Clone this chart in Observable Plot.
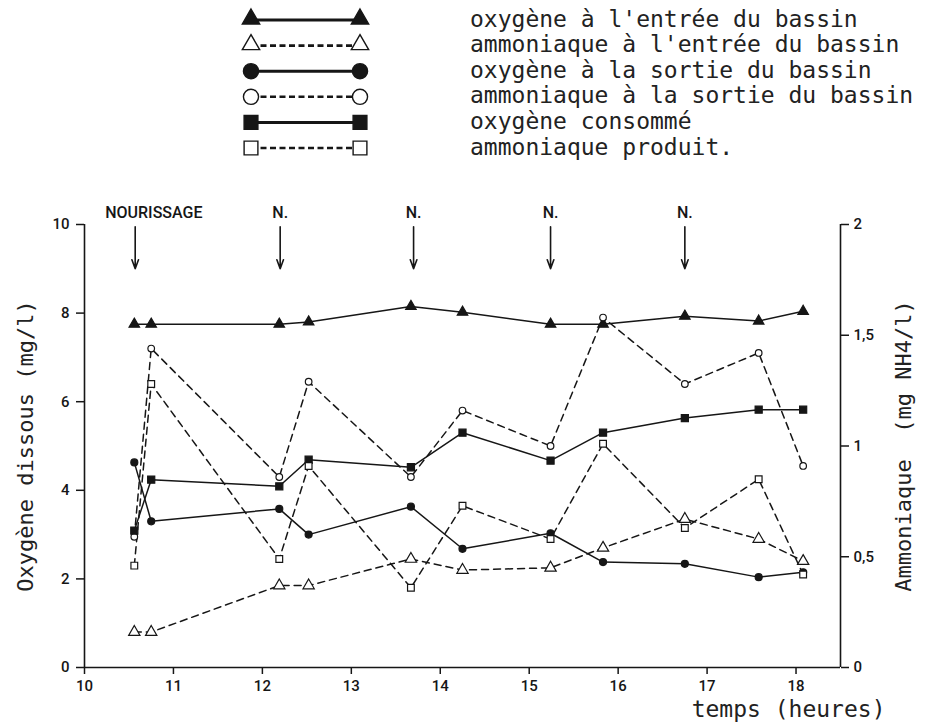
<!DOCTYPE html>
<html><head><meta charset="utf-8">
<script src="https://cdn.jsdelivr.net/npm/d3@7"></script>
<script src="https://cdn.jsdelivr.net/npm/@observablehq/plot@0.6"></script>
<style>
body{margin:0;background:#fff;width:929px;height:728px;overflow:hidden}
#legend svg,#chart svg{display:block}
</style></head><body>
<div id="legend"></div><div id="chart"></div>
<script>
// ---- data ----
const hours = [10.56, 10.75, 12.19, 12.52, 13.67, 14.25, 15.24, 15.83, 16.75, 17.58, 18.08];
const oxygenIn = [7.75, 7.75, 7.75, 7.8, 8.15, 8.02, 7.75, 7.75, 7.93, 7.82, 8.04];
const ammoniaIn = [0.16, 0.16, 0.37, 0.37, 0.49, 0.44, 0.45, 0.54, 0.67, 0.58, 0.48];
const oxygenOut = [4.63, 3.30, 3.58, 3.00, 3.63, 2.68, 3.03, 2.38, 2.34, 2.04, 2.15];
const ammoniaOut = [0.59, 1.44, 0.86, 1.29, 0.86, 1.16, 1.00, 1.58, 1.28, 1.42, 0.91];
const oxygenConsumed = [3.09, 4.24, 4.09, 4.69, 4.52, 5.30, 4.67, 5.30, 5.63, 5.82, 5.82];
const ammoniaProduced = [0.46, 1.28, 0.49, 0.91, 0.36, 0.73, 0.58, 1.01, 0.63, 0.85, 0.42];

const seriesNames = [
  "oxygène à l'entrée du bassin",
  "ammoniaque à l'entrée du bassin",
  "oxygène à la sortie du bassin",
  "ammoniaque à la sortie du bassin",
  "oxygène consommé",
  "ammoniaque produit."
];
const feedingTimes = [10.57, 12.2, 13.7, 15.24, 16.75];
const feedingLabels = ["NOURISSAGE", "N.", "N.", "N.", "N."];
const xTicks = [10, 11, 12, 13, 14, 15, 16, 17, 18];
const oxygenTicks = [0, 2, 4, 6, 8, 10];
const ammoniaTicks = [0, 0.5, 1, 1.5, 2];
const ammoniaTickLabels = ["0", "0,5", "1", "1,5", "2"];
const xLabel = "temps (heures)";
const yLabelLeft = "Oxygène dissous (mg/l)";
const yLabelRight = "Ammoniaque\u00A0\u00A0(mg NH4/l)";

// ammonia (0–2 mg) drawn on the oxygen scale (0–10 mg)
const AMMONIA_FACTOR = 5;

const series = [
  {name: seriesNames[0], values: oxygenIn, ammonia: false, symbol: "triangle", filled: true},
  {name: seriesNames[1], values: ammoniaIn, ammonia: true, symbol: "triangle", filled: false},
  {name: seriesNames[2], values: oxygenOut, ammonia: false, symbol: "circle", filled: true},
  {name: seriesNames[3], values: ammoniaOut, ammonia: true, symbol: "circle", filled: false},
  {name: seriesNames[4], values: oxygenConsumed, ammonia: false, symbol: "square", filled: true},
  {name: seriesNames[5], values: ammoniaProduced, ammonia: true, symbol: "square", filled: false}
];

const INK = "#161616";
const MONO = "'DejaVu Sans Mono', 'Liberation Mono', monospace";
const SANS = "Roboto, 'DejaVu Sans', sans-serif";

// ---- legend (above the chart) ----
(function legend(){
  const W = 929, H = 185;
  const svg = d3.create("svg").attr("width", W).attr("height", H);
  const x0 = 251, x1 = 360, tx = 470;
  const sym = {triangle: d3.symbolTriangle, circle: d3.symbolCircle, square: d3.symbolSquare};
  const size = {triangle: 130, circle: 180, square: 190};
  series.forEach((s, i) => {
    const cy = 20 + i * 25.6;
    svg.append("line").attr("x1", x0).attr("x2", x1).attr("y1", cy).attr("y2", cy)
      .attr("stroke", INK).attr("stroke-width", s.filled ? 3 : 2.6)
      .attr("stroke-dasharray", s.filled ? null : "6,3.5");
    [x0, x1].forEach(x => {
      svg.append("path").attr("d", d3.symbol(sym[s.symbol], size[s.symbol])())
        .attr("transform", `translate(${x},${s.symbol === "triangle" ? cy - 1 : cy})`)
        .attr("fill", s.filled ? INK : "#fff").attr("stroke", INK).attr("stroke-width", 1.4);
    });
    svg.append("text").attr("x", tx).attr("y", cy + 6.5).text(s.name)
      .attr("font-family", MONO).attr("font-size", 23).attr("fill", "#222");
  });
  document.getElementById("legend").append(svg.node());
})();

// ---- chart ----
const rows = series.flatMap(s => s.values.map((v, i) => ({
  series: s.name, t: hours[i], v: s.ammonia ? v * AMMONIA_FACTOR : v
})));

const marks = [
  Plot.ruleX([10], {stroke: INK, strokeWidth: 1.6}),
  Plot.ruleX([18.5], {stroke: INK, strokeWidth: 1.6}),
  Plot.ruleY([0], {stroke: INK, strokeWidth: 1.6}),
  Plot.axisX({ticks: xTicks, tickSize: 7, tickPadding: 6, fontSize: 15, fontFamily: SANS, fontWeight: 500, label: null, stroke: INK, strokeWidth: 1.5}),
  Plot.axisY({anchor: "left", ticks: oxygenTicks, tickSize: 8, tickPadding: 7, fontSize: 15, fontFamily: SANS, fontWeight: 500, label: null, stroke: INK, strokeWidth: 1.5}),
  Plot.axisY({anchor: "right", ticks: ammoniaTicks.map(v => v * AMMONIA_FACTOR),
    tickFormat: v => ammoniaTickLabels[ammoniaTicks.indexOf(v / AMMONIA_FACTOR)],
    tickSize: 8, tickPadding: 5, fontSize: 15, fontFamily: SANS, fontWeight: 500, label: null, stroke: INK, strokeWidth: 1.5}),
  Plot.text([yLabelLeft], {frameAnchor: "left", textAnchor: "middle", rotate: -90, dx: -59, fontFamily: MONO, fontSize: 22, fill: "#222"}),
  Plot.text([yLabelRight], {frameAnchor: "right", textAnchor: "middle", rotate: -90, dx: 63, fontFamily: MONO, fontSize: 22, fill: "#222"}),
  Plot.text([xLabel], {frameAnchor: "bottom-right", textAnchor: "end", dx: 45, dy: 49, fontFamily: MONO, fontSize: 23, fill: "#222"}),
  // feeding arrows
  Plot.arrow(feedingTimes, {x1: d => d, x2: d => d, y1: 9.95, y2: 9.0, stroke: INK, strokeWidth: 1.6, headLength: 9, headAngle: 40}),
  Plot.text(feedingTimes.slice(0, 1), {x: d => d, y: 10.27, text: feedingLabels.slice(0, 1), textAnchor: "start", dx: -30, fontFamily: SANS, fontWeight: 500, fontSize: 16, fill: INK}),
  Plot.text(feedingTimes.slice(1), {x: d => d, y: 10.27, text: feedingLabels.slice(1), fontFamily: SANS, fontWeight: 500, fontSize: 16, fill: INK})
];

series.forEach(s => {
  marks.push(Plot.line(rows.filter(r => r.series === s.name), {
    x: "t", y: "v", stroke: INK, strokeWidth: 1.5,
    strokeDasharray: s.ammonia ? "7,5" : null
  }));
});
series.forEach(s => {
  const r = s.symbol === "circle" ? (s.filled ? 3.5 : 3.3) : s.symbol === "square" ? (s.filled ? 4 : 3.8) : (s.filled ? 3.9 : 4.2);
  marks.push(Plot.dot(rows.filter(d => d.series === s.name), {
    x: "t", y: "v", symbol: s.symbol, r,
    fill: s.filled ? INK : "#fff", stroke: INK, strokeWidth: 1.2
  }));
});

const chart = Plot.plot({
  width: 929, height: 543,
  marginLeft: 84, marginRight: 89, marginTop: 39, marginBottom: 61,
  x: {domain: [10, 18.5], axis: null},
  y: {domain: [0, 10], axis: null},
  style: {background: "#fff", overflow: "visible", color: INK},
  marks
});
document.getElementById("chart").append(chart);
</script>
</body></html>
